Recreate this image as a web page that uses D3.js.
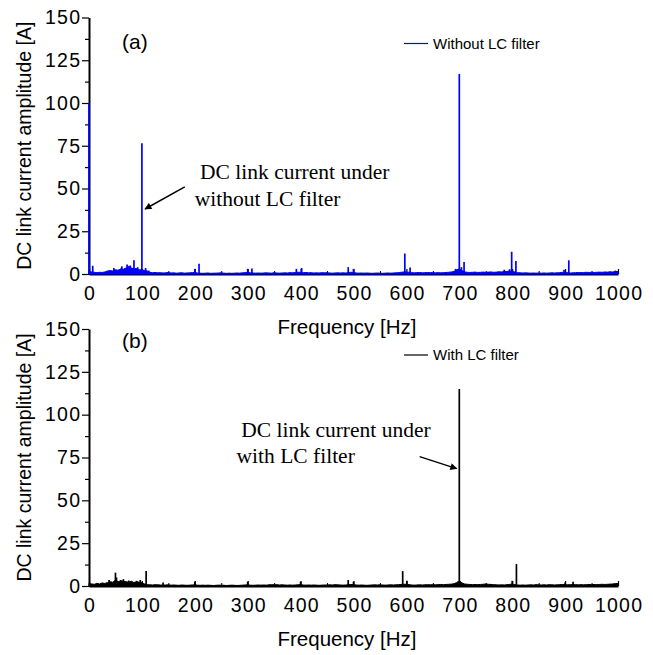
<!DOCTYPE html>
<html>
<head>
<meta charset="utf-8">
<script src="https://cdn.jsdelivr.net/npm/d3@7"></script>
<style>
  body { margin: 0; background: #fff; }
  svg { display: block; }
</style>
</head>
<body>
<svg id="chart" width="653" height="655"></svg>
<script>
// spectrum noise floor, one value every 5 Hz from 0 to 1000 Hz
const freqStep = 5
const noiseA = [
  1.5, 1.2, 1.0, 0.8, 1.0, 0.9, 1.2, 1.8, 2.0, 1.8,
  2.5, 2.2, 3.0, 2.8, 3.5, 4.5, 3.5, 3.0, 3.2, 2.5,
  2.5, 2.0, 1.8, 1.0, 0.8, 0.9, 0.7, 0.8, 0.6, 0.7,
  0.9, 0.6, 0.7, 0.5, 0.6, 0.8, 0.5, 0.6, 0.7, 0.8,
  0.9, 0.6, 0.5, 0.4, 0.5, 0.6, 0.4, 0.5, 0.5, 0.6,
  0.7, 0.5, 0.4, 0.5, 0.4, 0.5, 0.6, 0.5, 0.7, 0.8,
  0.9, 0.7, 0.6, 0.5, 0.6, 0.5, 0.6, 0.7, 0.6, 0.5,
  0.8, 0.6, 0.5, 0.6, 0.7, 0.6, 0.8, 0.7, 0.9, 1.0,
  1.0, 0.8, 0.9, 0.7, 0.8, 0.6, 0.7, 0.6, 0.8, 0.7,
  0.8, 0.6, 0.5, 0.6, 0.7, 0.6, 0.7, 0.6, 0.8, 1.0,
  0.9, 0.6, 0.5, 0.6, 0.5, 0.6, 0.5, 0.4, 0.5, 0.6,
  0.5, 0.4, 0.5, 0.6, 0.5, 0.6, 0.7, 0.8, 1.0, 1.2,
  1.2, 1.0, 0.8, 0.7, 0.8, 0.9, 0.7, 0.8, 0.9, 0.8,
  0.9, 0.7, 0.8, 0.7, 0.8, 0.9, 1.0, 1.2, 1.5, 2.5,
  3.0, 2.0, 1.2, 1.0, 0.9, 1.0, 1.1, 0.9, 1.0, 1.1,
  1.0, 1.1, 1.2, 1.0, 1.1, 1.3, 1.2, 1.5, 1.4, 1.8,
  1.5, 1.2, 0.8, 0.7, 0.6, 0.7, 0.6, 0.5, 0.6, 0.5,
  0.6, 0.5, 0.6, 0.5, 0.6, 0.7, 0.6, 0.7, 0.8, 1.0,
  1.0, 0.8, 0.6, 0.7, 0.8, 0.9, 0.8, 0.9, 1.0, 0.9,
  1.0, 0.9, 1.0, 1.1, 1.0, 1.2, 1.1, 1.3, 1.2, 1.4,
  1.5,
]
const noiseB = [
  1.5, 1.2, 1.0, 1.5, 1.2, 1.8, 1.5, 2.0, 2.5, 2.2,
  3.5, 2.5, 3.0, 2.8, 2.5, 2.2, 2.8, 2.0, 2.5, 2.2,
  2.0, 1.2, 0.8, 0.7, 0.6, 0.8, 0.7, 0.6, 0.5, 0.6,
  0.7, 0.5, 0.6, 0.5, 0.4, 0.6, 0.5, 0.4, 0.5, 0.6,
  0.7, 0.5, 0.4, 0.5, 0.4, 0.5, 0.4, 0.3, 0.4, 0.5,
  0.5, 0.4, 0.3, 0.4, 0.5, 0.4, 0.3, 0.4, 0.5, 0.6,
  0.7, 0.5, 0.4, 0.5, 0.6, 0.5, 0.6, 0.5, 0.7, 0.8,
  0.7, 0.8, 0.6, 0.7, 0.6, 0.5, 0.6, 0.5, 0.6, 0.7,
  0.8, 0.6, 0.5, 0.6, 0.5, 0.6, 0.5, 0.4, 0.5, 0.6,
  0.6, 0.7, 0.6, 0.8, 0.7, 0.6, 0.5, 0.6, 0.7, 0.9,
  0.8, 0.6, 0.5, 0.6, 0.5, 0.4, 0.5, 0.6, 0.7, 0.6,
  0.7, 0.6, 0.5, 0.6, 0.7, 0.6, 0.7, 0.8, 0.9, 1.0,
  1.0, 0.8, 0.6, 0.5, 0.6, 0.7, 0.6, 0.7, 0.8, 0.7,
  0.8, 0.7, 0.8, 0.9, 0.8, 0.9, 1.0, 1.1, 1.3, 2.0,
  3.0, 1.8, 1.2, 1.0, 0.9, 0.8, 0.9, 0.8, 0.9, 1.0,
  1.2, 1.0, 0.9, 0.8, 0.7, 0.6, 0.7, 0.6, 0.8, 0.9,
  1.2, 0.8, 0.6, 0.5, 0.6, 0.5, 0.6, 0.7, 0.6, 0.8,
  0.7, 0.6, 0.7, 0.6, 0.8, 0.7, 0.6, 0.7, 0.8, 0.9,
  0.8, 0.7, 0.8, 0.9, 0.8, 0.7, 0.8, 0.7, 0.8, 0.9,
  0.8, 0.9, 0.8, 0.9, 1.0, 0.9, 1.0, 1.1, 1.2, 1.4,
  1.5,
]

// harmonic lines [frequency Hz, amplitude A]
const peaksA = [
  [0, 100], [7, 4.8], [47, 3.5], [62, 4.5], [72, 5.5], [78, 5],
  [85, 8], [92, 4], [100, 76.5], [107, 3.5], [113, 2],
  [200, 3], [208, 6], [300, 3], [308, 3.2], [392, 3], [402, 3.5],
  [490, 4], [500, 3], [597, 12], [607, 3.8], [693, 3], [700, 117],
  [704, 4], [709, 7], [785, 2.5], [795, 2.8], [799, 13], [807, 7.6],
  [898, 2.5], [907, 8], [995, 2],
]
const peaksB = [
  [38, 3.5], [50, 7.8], [52, 5], [60, 3.5], [65, 4], [75, 3.2],
  [90, 3], [97, 3.5], [108, 8.7], [140, 2], [200, 2.5],
  [300, 2.5], [400, 2.5], [490, 3.5], [500, 2.5], [593, 8.7], [601, 3],
  [700, 115], [800, 3], [808, 12.8], [900, 2], [915, 2.5],
]

const xTicks = [0, 100, 200, 300, 400, 500, 600, 700, 800, 900, 1000]
const xMinor = [50, 150, 250, 350, 450, 550, 650, 750, 850, 950]
const yTicks = [0, 25, 50, 75, 100, 125, 150]
const yMinor = [12.5, 37.5, 62.5, 87.5, 112.5, 137.5]

const panels = [
  {
    label: '(a)', legend: 'Without LC filter', color: '#0000ff',
    noise: noiseA, peaks: peaksA,
    note: ['DC link current under', 'without LC filter'],
    noteAt: [[210, 55.5], [200, 40]], arrow: [[181, 51], [106, 38]],
  },
  {
    label: '(b)', legend: 'With LC filter', color: '#000000',
    noise: noiseB, peaks: peaksB,
    note: ['DC link current under', 'with LC filter'],
    noteAt: [[288, 86.8], [279, 71.5]], arrow: [[625, 75.5], [695, 68.5]],
  },
]

// pixel layout of each panel
const layout = [
  {top: 17.5, bottom: 274, labelY: 49, legendY: 43.5},
  {top: 329, bottom: 586, labelY: 348, legendY: 355},
]

const sans = '"Liberation Sans", Arial, sans-serif'
const serif = '"Liberation Serif", "Times New Roman", serif'

const svg = d3.select('#chart')
svg.append('rect').attr('width', 653).attr('height', 655).attr('fill', '#fff')

svg.append('defs').append('marker')
  .attr('id', 'arrowhead')
  .attr('viewBox', '0 0 10 10')
  .attr('refX', 9).attr('refY', 5)
  .attr('markerWidth', 9).attr('markerHeight', 7)
  .attr('markerUnits', 'userSpaceOnUse')
  .attr('orient', 'auto')
  .append('path')
  .attr('d', 'M0,0 L10,5 L0,10 Z')
  .attr('fill', '#000')

const x = d3.scaleLinear().domain([0, 1000]).range([89, 618])

panels.forEach((p, i) => {
  const lay = layout[i]
  const y = d3.scaleLinear().domain([0, 150]).range([lay.bottom, lay.top])
  const g = svg.append('g')

  // x axis with inward ticks
  const xAxisG = g.append('g')
    .attr('transform', `translate(0, ${lay.bottom})`)
    .call(d3.axisBottom(x).tickValues(xTicks).tickFormat(d3.format('d'))
      .tickSizeInner(-5).tickSizeOuter(0).tickPadding(12))
  g.append('g')
    .attr('transform', `translate(0, ${lay.bottom})`)
    .call(d3.axisBottom(x).tickValues(xMinor).tickSizeInner(-3).tickSizeOuter(0).tickFormat(''))
    .select('.domain').remove()
  xAxisG.attr('font-size', 19.5).attr('font-family', sans)
  xAxisG.selectAll('text').attr('letter-spacing', 1.2).attr('dx', 0.6)
  xAxisG.select('.domain').attr('stroke-width', 2)
  xAxisG.selectAll('.tick line').attr('stroke-width', 1.2)

  // y axis
  const yAxisG = g.append('g')
    .attr('transform', 'translate(89, 0)')
    .call(d3.axisLeft(y).tickValues(yTicks).tickSizeInner(7).tickSizeOuter(0).tickPadding(2))
  yAxisG.attr('font-size', 19.5).attr('font-family', sans)
  yAxisG.selectAll('text').attr('letter-spacing', 1.2).attr('dx', 1.2)
  yAxisG.select('.domain').attr('stroke-width', 2)
  yAxisG.selectAll('.tick line').attr('stroke-width', 1.2)
  g.append('g')
    .attr('transform', 'translate(89, 0)')
    .call(d3.axisLeft(y).tickValues(yMinor).tickSizeInner(4).tickSizeOuter(0).tickFormat(''))
    .call(a => a.select('.domain').remove())
    .selectAll('.tick line').attr('stroke-width', 1.2)

  // spectrum
  const series = p.noise.map((v, k) => [k * freqStep, v])
  g.append('path')
    .datum(series)
    .attr('fill', p.color)
    .attr('stroke', p.color)
    .attr('stroke-width', 1)
    .attr('d', d3.area().x(d => x(d[0])).y0(y(0)).y1(d => y(d[1])))

  g.selectAll('line.peak')
    .data(p.peaks)
    .join('line')
    .attr('class', 'peak')
    .attr('x1', d => x(d[0])).attr('x2', d => x(d[0]))
    .attr('y1', y(0)).attr('y2', d => y(d[1]))
    .attr('stroke', p.color)
    .attr('stroke-width', 1.7)

  // titles
  g.append('text')
    .attr('transform', `translate(31, ${(lay.top + lay.bottom) / 2}) rotate(-90)`)
    .attr('text-anchor', 'middle')
    .attr('font-family', sans).attr('font-size', 19.5)
    .text('DC link current amplitude [A]')
  g.append('text')
    .attr('x', 347).attr('y', lay.bottom + 60)
    .attr('text-anchor', 'middle')
    .attr('font-family', sans).attr('font-size', 20.5)
    .text('Frequency [Hz]')
  g.append('text')
    .attr('x', 122).attr('y', lay.labelY)
    .attr('font-family', sans).attr('font-size', 21)
    .text(p.label)

  // legend
  g.append('line')
    .attr('x1', 404).attr('x2', 428)
    .attr('y1', lay.legendY).attr('y2', lay.legendY)
    .attr('stroke', p.color).attr('stroke-width', 1.2)
  g.append('text')
    .attr('x', 433).attr('y', lay.legendY + 5)
    .attr('font-family', sans).attr('font-size', 15)
    .text(p.legend)

  // annotation
  p.note.forEach((line, k) => {
    g.append('text')
      .attr('x', x(p.noteAt[k][0])).attr('y', y(p.noteAt[k][1]))
      .attr('font-family', serif).attr('font-size', 21.5)
      .text(line)
  })
  g.append('line')
    .attr('x1', x(p.arrow[0][0])).attr('y1', y(p.arrow[0][1]))
    .attr('x2', x(p.arrow[1][0])).attr('y2', y(p.arrow[1][1]))
    .attr('stroke', '#000').attr('stroke-width', 1.5)
    .attr('marker-end', 'url(#arrowhead)')
})
</script>
</body>
</html>
